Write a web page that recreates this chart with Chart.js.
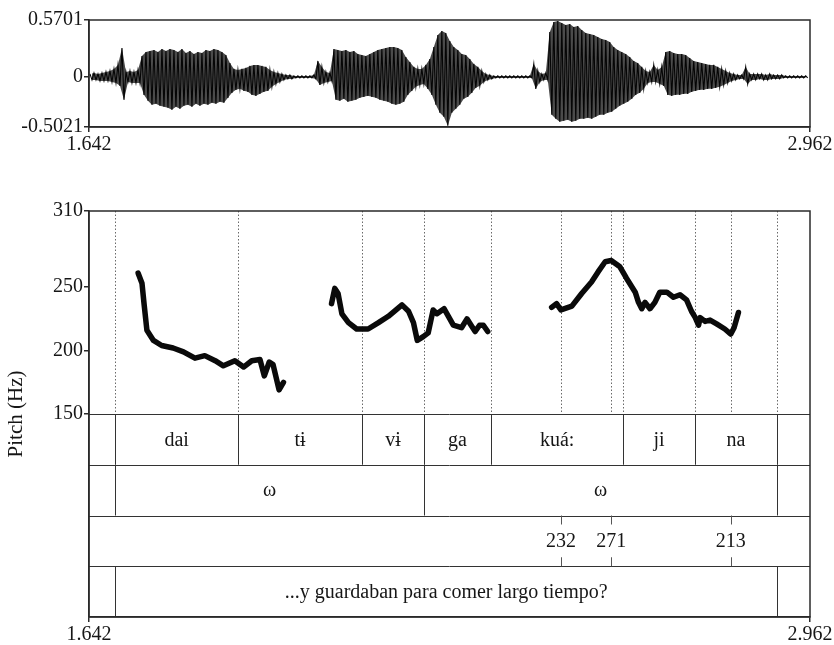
<!DOCTYPE html>
<html>
<head>
<meta charset="utf-8">
<title>Pitch (Hz)</title>
<script src="https://cdn.jsdelivr.net/npm/chart.js@4.4.1/dist/chart.umd.min.js"></script>
<style>
  html, body { margin: 0; padding: 0; background: #fff; }
  #wrap { position: relative; width: 834px; height: 645px; }
  canvas { position: absolute; left: 0; }
  #chartOnda { top: 0; }
  #chartPitch { top: 165px; }
</style>
</head>
<body>
<div id="wrap">
  <canvas id="chartOnda" width="834" height="165"></canvas>
  <canvas id="chartPitch" width="834" height="480"></canvas>
</div>
<script>
// Eje de tiempo (s) y marcas de los ejes
const T_MIN = 1.642;
const T_MAX = 2.962;
const timeTicks = [1.642, 2.962];
const ampTicks = [0.5701, 0, -0.5021];
const pitchTicks = [150, 200, 250, 310];

// Envolvente de la onda: un pico positivo y uno negativo por paso
const waveStart = 1.6438;
const waveStep = 0.00732;
const waveUpper = [
  0.03, 0.04, 0.03, 0.04, 0.05, 0.06, 0.08, 0.12, 0.29, 0.05,
  0.06, 0.05, 0.07, 0.21, 0.25, 0.26, 0.27, 0.25, 0.28, 0.26,
  0.28, 0.27, 0.25, 0.28, 0.24, 0.26, 0.23, 0.25, 0.24, 0.27,
  0.26, 0.28, 0.27, 0.25, 0.22, 0.14, 0.08, 0.07, 0.08, 0.09,
  0.11, 0.12, 0.12, 0.11, 0.10, 0.07, 0.05, 0.04, 0.03, 0.02,
  0.02, 0.01, 0.01, 0.01, 0.01, 0.01, 0.02, 0.16, 0.10, 0.05,
  0.04, 0.28, 0.27, 0.26, 0.27, 0.25, 0.26, 0.23, 0.22, 0.21,
  0.23, 0.25, 0.27, 0.28, 0.29, 0.30, 0.30, 0.29, 0.27, 0.20,
  0.15, 0.10, 0.08, 0.08, 0.12, 0.18, 0.30, 0.42, 0.46, 0.44,
  0.36, 0.30, 0.27, 0.23, 0.22, 0.18, 0.13, 0.10, 0.06, 0.03,
  0.02, 0.01, 0.01, 0.01, 0.01, 0.01, 0.01, 0.01, 0.01, 0.01, 0.01,
  0.13, 0.06, 0.03, 0.04, 0.45, 0.55, 0.56, 0.54, 0.52, 0.53,
  0.50, 0.51, 0.47, 0.44, 0.43, 0.42, 0.40, 0.38, 0.37, 0.35,
  0.30, 0.27, 0.25, 0.23, 0.20, 0.16, 0.14, 0.10, 0.06, 0.05,
  0.12, 0.07, 0.10, 0.25, 0.26, 0.24, 0.23, 0.23, 0.22, 0.19,
  0.16, 0.15, 0.14, 0.13, 0.12, 0.12, 0.10, 0.08, 0.06, 0.04,
  0.03, 0.02, 0.02, 0.10, 0.03, 0.03, 0.03, 0.03, 0.02, 0.03,
  0.02, 0.02, 0.02, 0.01, 0.01, 0.01, 0.01, 0.01, 0.01
];
const waveLower = [
  -0.03, -0.03, -0.04, -0.04, -0.04, -0.05, -0.06, -0.09, -0.23, -0.05,
  -0.06, -0.06, -0.06, -0.18, -0.24, -0.28, -0.27, -0.29, -0.30, -0.31,
  -0.33, -0.30, -0.32, -0.29, -0.28, -0.30, -0.27, -0.29, -0.27, -0.28,
  -0.26, -0.27, -0.25, -0.26, -0.21, -0.16, -0.13, -0.12, -0.14, -0.15,
  -0.18, -0.19, -0.17, -0.15, -0.14, -0.10, -0.07, -0.05, -0.03, -0.02,
  -0.02, -0.01, -0.01, -0.01, -0.01, -0.01, -0.02, -0.08, -0.06, -0.05,
  -0.04, -0.23, -0.24, -0.22, -0.25, -0.24, -0.23, -0.21, -0.20, -0.19,
  -0.20, -0.21, -0.23, -0.24, -0.25, -0.27, -0.28, -0.27, -0.25, -0.18,
  -0.14, -0.10, -0.08, -0.07, -0.12, -0.18, -0.28, -0.36, -0.40, -0.49,
  -0.36, -0.32, -0.28, -0.22, -0.20, -0.16, -0.11, -0.09, -0.05, -0.03,
  -0.02, -0.01, -0.01, -0.01, -0.01, -0.01, -0.01, -0.01, -0.01, -0.01, -0.01,
  -0.12, -0.05, -0.03, -0.03, -0.38, -0.42, -0.45, -0.44, -0.43, -0.45,
  -0.44, -0.42, -0.42, -0.41, -0.42, -0.40, -0.38, -0.38, -0.36, -0.35,
  -0.32, -0.29, -0.27, -0.25, -0.22, -0.18, -0.16, -0.12, -0.06, -0.05,
  -0.05, -0.07, -0.09, -0.18, -0.19, -0.18, -0.18, -0.17, -0.17, -0.15,
  -0.14, -0.13, -0.13, -0.12, -0.12, -0.11, -0.10, -0.08, -0.06, -0.04,
  -0.03, -0.02, -0.02, -0.07, -0.03, -0.03, -0.02, -0.03, -0.03, -0.02,
  -0.02, -0.02, -0.01, -0.01, -0.01, -0.01, -0.01, -0.01, -0.01
];

// Curva de F0 (Hz), tres tramos con voz
const f0Times1 = [1.732, 1.739, 1.743, 1.748, 1.760, 1.775, 1.796, 1.815, 1.836, 1.854,
  1.873, 1.888, 1.909, 1.925, 1.940, 1.955, 1.963, 1.972, 1.979, 1.990, 1.998];
const f0Hz1 = [261, 253, 236, 216, 208, 204, 202, 199, 194, 196,
  192, 188, 192, 187, 192, 193, 180, 191, 189, 169, 175];
const f0Times2 = [2.086, 2.092, 2.098, 2.105, 2.117, 2.132, 2.153, 2.172, 2.190, 2.215,
  2.227, 2.236, 2.243, 2.254, 2.263, 2.272, 2.279, 2.292, 2.300, 2.309,
  2.324, 2.334, 2.343, 2.349, 2.357, 2.364, 2.372];
const f0Hz2 = [237, 249, 245, 229, 222, 217, 217, 222, 227, 236,
  231, 222, 208, 211, 214, 232, 229, 233, 227, 220,
  218, 225, 219, 215, 220, 220, 215];
const f0Times3 = [2.489, 2.498, 2.506, 2.526, 2.544, 2.562, 2.574, 2.587, 2.598, 2.614,
  2.626, 2.642, 2.648, 2.654, 2.660, 2.669, 2.678, 2.687, 2.700, 2.712,
  2.724, 2.736, 2.745, 2.752, 2.758, 2.761, 2.770, 2.779, 2.791, 2.806,
  2.817, 2.823, 2.831];
const f0Hz3 = [234, 237, 232, 235, 245, 254, 262, 270, 271, 266,
  257, 246, 238, 233, 238, 233, 238, 246, 246, 242,
  244, 240, 231, 226, 220, 226, 223, 224, 221, 217,
  213, 218, 230];

// Grillas de texto (TextGrid)
const silabaBounds = [1.690, 1.915, 2.142, 2.255, 2.378, 2.620, 2.751, 2.902];
const silabaLabels = ['dai', 'tɨ', 'vɨ', 'ga', 'kuá:', 'ji', 'na'];
const palabraBounds = [1.690, 2.255, 2.902];
const palabraLabels = ['ω', 'ω'];
const tonoTimes = [2.506, 2.598, 2.817];
const tonoLabels = ['232', '271', '213'];
const fraseBounds = [1.690, 2.902];
const fraseLabels = ['...y guardaban para comer largo tiempo?'];

const SERIF = "'Liberation Serif', 'Times New Roman', serif";
const INK = '#161616';
const FRAME = '#2a2a2a';

// picos alternos (positivo / negativo) para el trazo de la onda
const wavePoints = [];
const waveTop = [];
const waveBottom = [];
waveUpper.forEach((a, i) => {
  const t = waveStart + i * waveStep;
  wavePoints.push({ x: t, y: a });
  wavePoints.push({ x: t + waveStep / 2, y: waveLower[i] });
  waveTop.push({ x: t, y: a });
  waveBottom.push({ x: t + waveStep / 2, y: waveLower[i] });
});

function puntos(ts, vs) {
  return ts.map((t, i) => ({ x: t, y: vs[i] }));
}

// Marco superior y derecho del área del gráfico
const marcoPlugin = {
  id: 'marco',
  afterDraw(chart) {
    const { ctx, chartArea: a } = chart;
    ctx.save();
    ctx.strokeStyle = FRAME;
    ctx.lineWidth = 1.5;
    ctx.strokeRect(a.left, a.top, a.right - a.left, a.bottom - a.top);
    ctx.restore();
  }
};

// Líneas punteadas y niveles de anotación debajo de la curva
const grillaPlugin = {
  id: 'grilla',
  beforeDatasetsDraw(chart) {
    const { ctx, chartArea: a, scales: { x, y } } = chart;
    const fila = i => y.getPixelForValue(150 - 40 * i);
    const px = t => Math.round(x.getPixelForValue(t)) + 0.5;
    const linea = (x1, y1, x2, y2) => { ctx.beginPath(); ctx.moveTo(x1, y1); ctx.lineTo(x2, y2); ctx.stroke(); };

    ctx.save();
    // guías punteadas sobre la zona de F0
    ctx.strokeStyle = '#6a6a6a';
    ctx.lineWidth = 1;
    ctx.setLineDash([1.5, 2]);
    silabaBounds.concat(tonoTimes).forEach(t => linea(px(t), a.top, px(t), fila(0)));
    ctx.setLineDash([]);

    // separadores horizontales de los niveles
    ctx.strokeStyle = '#333';
    for (let i = 0; i < 4; i++) {
      const yy = Math.round(fila(i)) + 0.5;
      linea(a.left, yy, a.right, yy);
    }

    ctx.fillStyle = INK;
    ctx.font = '20px ' + SERIF;
    ctx.textAlign = 'center';
    ctx.textBaseline = 'middle';

    const intervalos = (bounds, labels, i) => {
      const top = fila(i), bot = fila(i + 1);
      bounds.forEach(t => linea(px(t), top, px(t), bot));
      labels.forEach((txt, k) => {
        const cx = (x.getPixelForValue(bounds[k]) + x.getPixelForValue(bounds[k + 1])) / 2;
        ctx.fillText(txt, cx, (top + bot) / 2 + 1);
      });
    };
    intervalos(silabaBounds, silabaLabels, 0);
    intervalos(palabraBounds, palabraLabels, 1);
    intervalos(fraseBounds, fraseLabels, 3);

    // nivel de puntos (valores tonales)
    const top = fila(2), bot = fila(3);
    ctx.strokeStyle = '#555';
    tonoTimes.forEach((t, k) => {
      linea(px(t), top, px(t), top + 9);
      linea(px(t), bot - 9, px(t), bot);
      ctx.fillText(tonoLabels[k], x.getPixelForValue(t), (top + bot) / 2 + 1);
    });
    ctx.restore();
  }
};

const ejeGrid = { drawOnChartArea: false, drawTicks: true, tickLength: 5, color: FRAME, lineWidth: 1.5 };
const ejeBorde = { color: FRAME, width: 1.5 };
const ejeTicks = { font: { family: SERIF, size: 20 }, color: INK, padding: 1, autoSkip: false, maxRotation: 0 };

function ejeTiempo(alto) {
  return {
    type: 'linear', min: T_MIN, max: T_MAX,
    afterBuildTicks: s => { s.ticks = timeTicks.map(v => ({ value: v })); },
    afterFit: s => { s.height = alto; },
    grid: ejeGrid, border: ejeBorde,
    ticks: { ...ejeTicks, callback: v => Number(v).toFixed(3) }
  };
}

const comunes = {
  responsive: false,
  animation: false,
  events: [],
  plugins: { legend: { display: false }, tooltip: { enabled: false } }
};

// Oscilograma: trazo en zigzag sobre la banda de la envolvente
new Chart(document.getElementById('chartOnda'), {
  type: 'line',
  data: {
    datasets: [
      { data: wavePoints, borderColor: '#050505', borderWidth: 1.1, pointRadius: 0, tension: 0, fill: false },
      { data: waveTop, borderWidth: 0, pointRadius: 0, tension: 0, fill: '+1', backgroundColor: 'rgba(15,15,15,0.75)' },
      { data: waveBottom, borderWidth: 0, pointRadius: 0, tension: 0, fill: false }
    ]
  },
  options: {
    ...comunes,
    layout: { padding: { top: 20, right: 24, left: 0, bottom: 0 } },
    scales: {
      x: ejeTiempo(38),
      y: {
        min: -0.5021, max: 0.5701,
        afterBuildTicks: s => { s.ticks = ampTicks.map(v => ({ value: v })); },
        afterFit: s => { s.width = 89; },
        grid: ejeGrid, border: ejeBorde,
        ticks: { ...ejeTicks, callback: v => (v === 0 ? '0' : Number(v).toFixed(4)) }
      }
    }
  },
  plugins: [marcoPlugin]
});

// F0 con niveles de anotación
const estiloF0 = { borderColor: '#0a0a0a', borderWidth: 5.5, pointRadius: 0, tension: 0, borderJoinStyle: 'round', borderCapStyle: 'round' };

new Chart(document.getElementById('chartPitch'), {
  type: 'line',
  data: {
    datasets: [
      { data: puntos(f0Times1, f0Hz1), ...estiloF0 },
      { data: puntos(f0Times2, f0Hz2), ...estiloF0 },
      { data: puntos(f0Times3, f0Hz3), ...estiloF0 }
    ]
  },
  options: {
    ...comunes,
    layout: { padding: { top: 46, right: 24, left: 0, bottom: 0 } },
    scales: {
      x: ejeTiempo(28),
      y: {
        min: -10, max: 310,
        afterBuildTicks: s => { s.ticks = pitchTicks.map(v => ({ value: v })); },
        afterFit: s => { s.width = 89; },
        grid: ejeGrid, border: ejeBorde,
        ticks: { ...ejeTicks, callback: v => String(v) },
        title: { display: true, text: 'Pitch (Hz)', font: { family: SERIF, size: 21 }, color: INK, padding: { top: 4, bottom: 0 } }
      }
    }
  },
  plugins: [grillaPlugin, marcoPlugin]
});
</script>
</body>
</html>
